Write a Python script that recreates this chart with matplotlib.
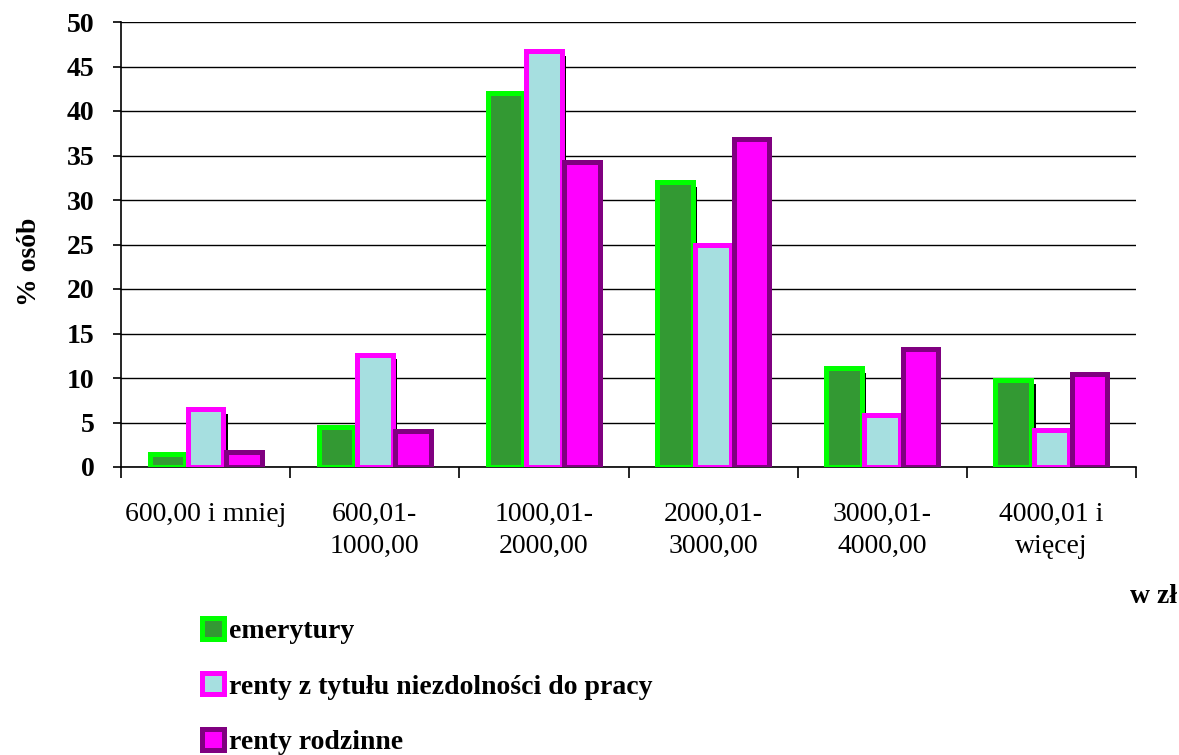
import numpy as np
import matplotlib.pyplot as plt

plt.rcParams['font.family'] = ['Liberation Serif', 'DejaVu Serif']

# data
categories = ['600,00 i mniej', '600,01-\n1000,00', '1000,01-\n2000,00',
              '2000,01-\n3000,00', '3000,01-\n4000,00', '4000,01 i\nwięcej']
emerytury = [1.5, 4.5, 42.0, 32.0, 11.1, 9.8]
renty_niezdolnosc = [6.5, 12.6, 46.7, 25.0, 5.8, 4.2]
renty_rodzinne = [1.7, 4.0, 34.3, 36.9, 13.3, 10.5]

series = [
    ('emerytury', emerytury, '#339933', '#00ff00', True),
    ('renty z tytułu niezdolności do pracy', renty_niezdolnosc, '#a6dfe0', '#ff00ff', True),
    ('renty rodzinne', renty_rodzinne, '#ff00ff', '#800080', False),
]

fig = plt.figure(figsize=(11.79, 7.55), dpi=100)
ax = fig.add_axes([121/1179, 1-467/755, (1136-121)/1179, (467-22)/755])

x = np.arange(len(categories))
step = 0.226
width = 0.21
handles = []
for i, (name, vals, face, edge, shadow) in enumerate(series):
    pos = x + (i - 1) * step
    vals = np.array(vals)
    if shadow:
        # black drop shadow, offset right and down
        ax.bar(pos + 0.027, vals - 0.5, width=width, color='black', zorder=2)
    b = ax.bar(pos, vals, width=width, color=face, edgecolor=edge,
               linewidth=3.6, label=name, zorder=3 + i)
    handles.append(b)

ax.set_xlim(-0.5, 5.5)
ax.set_ylim(0, 50)
ax.set_yticks(np.arange(0, 51, 5))
ax.yaxis.grid(True, color='black', linewidth=1)
ax.set_axisbelow(True)
for s in ['top', 'right']:
    ax.spines[s].set_visible(False)
ax.spines['left'].set_linewidth(1.2)
ax.spines['bottom'].set_linewidth(1.2)

ax.set_xticks(x)
ax.set_xticklabels(categories, fontsize=20, linespacing=1.4)
ax.set_xticks(np.arange(-0.5, 6, 1), minor=True)
ax.tick_params(axis='x', which='major', length=0, pad=25)
ax.tick_params(axis='x', which='minor', length=8, width=1.2)
ax.tick_params(axis='y', length=6, width=1.2, pad=13, labelsize=20)
for lab in ax.get_yticklabels():
    lab.set_fontweight('bold')

fig.text(29/1179, 1-262/755, '% osób', rotation=90, ha='center', va='center',
         fontsize=20, fontweight='bold')
fig.text(1130/1179, 1-603/755, 'w zł', ha='left', va='baseline',
         fontsize=20, fontweight='bold')

fig.legend(handles=handles, loc='upper left',
           bbox_to_anchor=(188/1179, 1-604/755), frameon=False,
           prop={'weight': 'bold', 'size': 20}, handlelength=0.78,
           handleheight=0.78, handletextpad=0.2, labelspacing=1.06,
           borderpad=0)

fig.savefig('out.png', dpi=100)
